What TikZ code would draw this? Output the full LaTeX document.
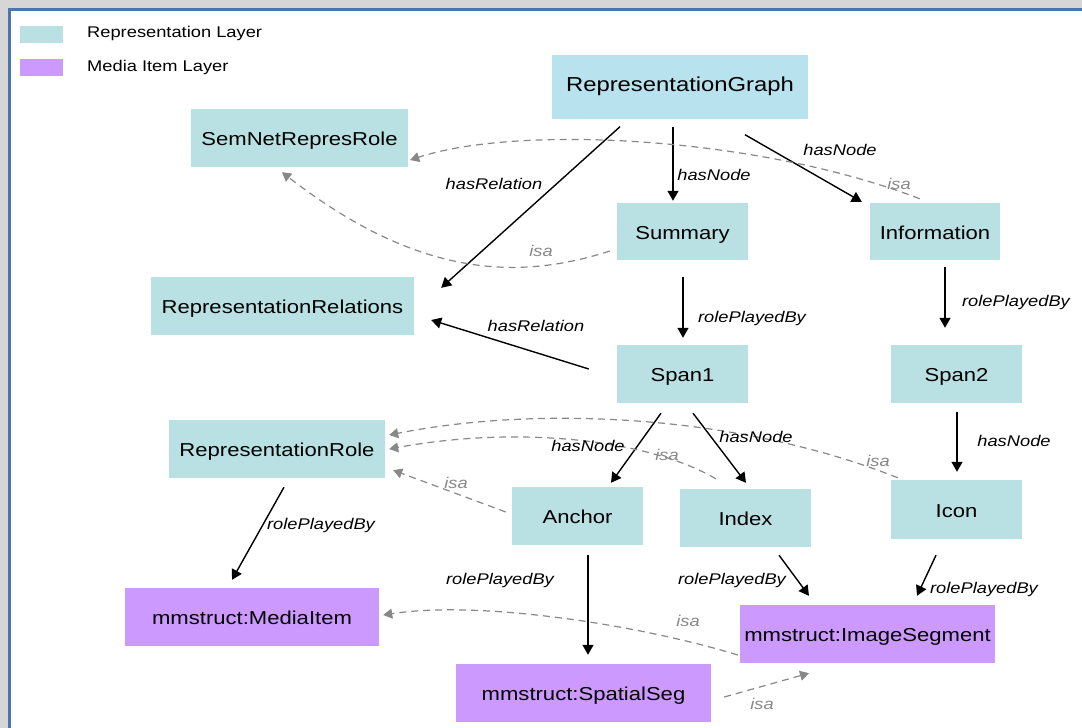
\documentclass[tikz,border=0pt]{standalone}
\usepackage{fontspec}
\setmainfont[FakeStretch=1.18]{Liberation Sans}
\usetikzlibrary{arrows.meta,calc}
\definecolor{repcol}{RGB}{185,224,227}
\definecolor{rgcol}{RGB}{184,226,238}
\definecolor{medcol}{RGB}{204,153,255}
\definecolor{isacol}{RGB}{136,136,136}
\definecolor{framecol}{RGB}{74,118,168}
\definecolor{bgcol}{RGB}{214,214,214}
\begin{document}
\begin{tikzpicture}[x=1pt,y=-1pt,
  box/.style={rectangle, inner sep=0pt, font=\fontsize{18.7}{22}\selectfont, text height=15.4pt, text depth=0pt},
  rep/.style={box, fill=repcol},
  med/.style={box, fill=medcol},
  sz/.style 2 args={minimum width=#1pt, minimum height=#2pt},
  rel/.style={line width=1.4pt, -{Triangle[length=10pt,width=11pt]}},
  isa/.style={line width=1.2pt, isacol, dash pattern=on 7pt off 5pt, -{Triangle[length=9pt,width=10pt]}},
  lbl/.style={font=\fontsize{15.5}{18}\selectfont\itshape, inner sep=0pt},
  isalbl/.style={lbl, text=isacol},
  leg/.style={font=\fontsize{15.5}{18}\selectfont, anchor=base west, inner sep=0pt}]
\useasboundingbox (0,0) rectangle (1082,728);
\fill[bgcol] (0,0) rectangle (1082,728);
\fill[white] (8,8) rectangle (1082,728);
\draw[framecol, line width=3pt] (9.5,728) -- (9.5,9.5) -- (1082,9.5);

% legend
\node[fill=repcol, inner sep=0pt, sz={43}{17}] (legrep) at (41,34.5) {};
\node[leg] (legreptext) at (87,37) {Representation Layer};
\node[fill=medcol, inner sep=0pt, sz={43}{17}] (legmed) at (41,67.5) {};
\node[leg] (legmedtext) at (87,71) {Media Item Layer};

% nodes
\node[box, fill=rgcol, sz={256}{64}, font=\fontsize{20.2}{24}\selectfont, text height=14pt, text depth=3.6pt] (RG) at (680,86.5) {RepresentationGraph};
\node[rep, sz={217}{58}] (Sem) at (299.5,138) {SemNetRepresRole};
\node[rep, sz={131}{57}] (Sum) at (682.5,231.5) {Summary};
\node[rep, sz={130}{57}] (Info) at (935,231.5) {Information};
\node[rep, sz={263}{58}] (Rel) at (282.5,306) {RepresentationRelations};
\node[rep, sz={131}{58}] (Span1) at (682.5,374) {Span1};
\node[rep, sz={131}{58}] (Span2) at (956.5,374) {Span2};
\node[rep, sz={216}{58}] (Role) at (277,449) {RepresentationRole};
\node[rep, sz={131}{58}] (Anchor) at (577.5,516) {Anchor};
\node[rep, sz={131}{58}] (Index) at (745.5,518) {Index};
\node[rep, sz={131}{59}] (Icon) at (956.5,509.5) {Icon};
\node[med, sz={254}{58}] (Media) at (252,617) {mmstruct:MediaItem};
\node[med, sz={255}{58}] (ImgSeg) at (867.5,634) {mmstruct:ImageSegment};
\node[med, sz={255}{58}] (Spat) at (583.5,693) {mmstruct:SpatialSeg};

% solid relations
\draw[rel] ([shift={(-60,8)}]RG.south) -- ([shift={(27,11)}]Rel.north east);
\draw[rel] ([shift={(-7,8)}]RG.south) -- ([shift={(-9.5,-2)}]Sum.north);
\draw[rel] ([shift={(65,16)}]RG.south) -- ([shift={(-8,-1)}]Info.north west);
\draw[rel] ([shift={(0.5,17)}]Sum.south) -- ([shift={(0.5,-7)}]Span1.north);
\draw[rel] ([shift={(-28,-5)}]Span1.west) -- ([shift={(17,14)}]Rel.east);
\draw[rel] ([shift={(10,7)}]Info.south) -- ([shift={(-11.5,-17)}]Span2.north);
\draw[rel] ([shift={(-21.5,10)}]Span1.south) -- ([shift={(33.5,-4)}]Anchor.north);
\draw[rel] ([shift={(10.5,10)}]Span1.south) -- ([shift={(0.5,-6)}]Index.north);
\draw[rel] ([shift={(0.5,9)}]Span2.south) -- ([shift={(0.5,-8)}]Icon.north);
\draw[rel] ([shift={(7,9)}]Role.south) -- ([shift={(-20,-8)}]Media.north);
\draw[rel] ([shift={(10.5,10)}]Anchor.south) -- ([shift={(4.5,-9)}]Spat.north);
\draw[rel] ([shift={(33.5,8)}]Index.south) -- ([shift={(-58.5,-9)}]ImgSeg.north);
\draw[rel] ([shift={(-20.5,16)}]Icon.south) -- ([shift={(49.5,-9)}]ImgSeg.north);

% isa relations
\draw[isa] ([shift={(50,-4)}]Info.north west) .. controls (760,137) and (520,124) .. ([shift={(2,22)}]Sem.east);
\draw[isa] ([shift={(-7,19.5)}]Sum.west) .. controls (520,280) and (420,279) .. ([shift={(-17.5,5)}]Sem.south);
\draw[isa] ([shift={(7,-2)}]Icon.north west) .. controls (740,415) and (540,405) .. ([shift={(4,-14)}]Role.east);
\draw[isa] ([shift={(36,-10)}]Index.north west) .. controls (650,440) and (520,425) .. ([shift={(4,0)}]Role.east);
\draw[isa] ([shift={(-6,-4)}]Anchor.west) -- ([shift={(8,-8)}]Role.south east);
\draw[isa] ([shift={(-2,21)}]ImgSeg.west) .. controls (640,625) and (480,600) .. ([shift={(4,-2)}]Media.east);
\draw[isa] ([shift={(13,4)}]Spat.east) -- ([shift={(-58.5,10)}]ImgSeg.south);

% labels
\node[lbl] (l1) at (494,184) {hasRelation};
\node[lbl] (l2) at (714,175) {hasNode};
\node[lbl] (l3) at (840,150) {hasNode};
\node[lbl] (l4) at (752,318) {rolePlayedBy};
\node[lbl] (l5) at (536,326) {hasRelation};
\node[lbl] (l6) at (1016,302) {rolePlayedBy};
\node[lbl] (l7) at (1014,441) {hasNode};
\node[lbl] (l8) at (588,446) {hasNode};
\node[lbl] (l9) at (756,437) {hasNode};
\node[lbl] (l10) at (321,525) {rolePlayedBy};
\node[lbl] (l11) at (500,580) {rolePlayedBy};
\node[lbl] (l12) at (732,580) {rolePlayedBy};
\node[lbl] (l13) at (984,589) {rolePlayedBy};
\node[isalbl] (i1) at (899,184) {isa};
\node[isalbl] (i2) at (541,251) {isa};
\node[isalbl] (i3) at (878,461) {isa};
\node[isalbl] (i4) at (667,455) {isa};
\node[isalbl] (i5) at (456,483) {isa};
\node[isalbl] (i6) at (688,621) {isa};
\node[isalbl] (i7) at (762,704) {isa};
\end{tikzpicture}
\end{document}
